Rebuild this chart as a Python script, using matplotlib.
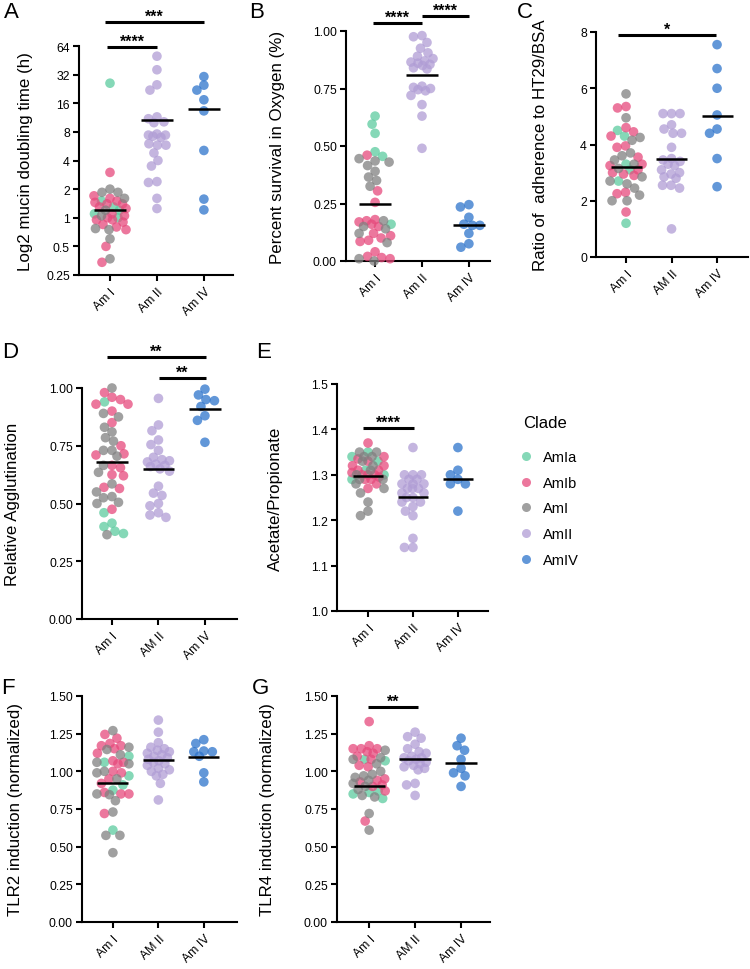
import numpy as np
import matplotlib
matplotlib.use("Agg")
import matplotlib.pyplot as plt
from matplotlib.lines import Line2D
from matplotlib.transforms import blended_transform_factory

plt.rcParams['font.family'] = ['Liberation Sans', 'DejaVu Sans']

# ---------------- data ----------------
clades = ["AmIa", "AmIb", "AmI", "AmII", "AmIV"]
clade_colors = ["#5ccb9f", "#e64a7c", "#808080", "#b09dd5", "#2e74cc"]

# Panel A: mucin doubling time (h)
A_AmIa = [26.0, 1.5, 1.3, 1.2, 1.1, 1.0]
A_AmIb = [3.0, 1.7, 1.6, 1.5, 1.45, 1.4, 1.4, 1.3, 1.25, 1.1, 1.05, 1.0, 0.95, 0.95, 0.9, 0.85, 0.8, 0.75, 0.5, 0.34]
A_AmI = [2.0, 1.85, 1.85, 1.6, 1.2, 1.05, 0.77, 0.75, 0.6, 0.37]
A_AmII = [50, 36, 25, 22, 11.5, 11, 10.2, 10, 7.6, 7.4, 7.4, 7.2, 7.0, 6.0, 5.8, 5.8, 4.8, 4.0, 3.5, 2.4, 2.35, 1.6, 1.25]
A_AmIV = [30.5, 24.8, 22, 17.4, 13.3, 5.1, 1.57, 1.21]
A_center = [1.2, 10.7, 14.0]

# Panel B: percent survival in oxygen
B_AmIa = [0.63, 0.595, 0.555, 0.475, 0.455, 0.16]
B_AmIb = [0.46, 0.305, 0.255, 0.18, 0.175, 0.17, 0.16, 0.15, 0.12, 0.11, 0.10, 0.09, 0.085, 0.04, 0.02, 0.015, 0.01]
B_AmI = [0.445, 0.435, 0.43, 0.415, 0.39, 0.365, 0.35, 0.325, 0.175, 0.15, 0.14, 0.12, 0.08, 0.01, 0.0]
B_AmII = [0.98, 0.975, 0.95, 0.925, 0.905, 0.89, 0.88, 0.87, 0.865, 0.86, 0.855, 0.85, 0.84, 0.835, 0.76, 0.755, 0.75, 0.745, 0.74, 0.72, 0.68, 0.63, 0.49]
B_AmIV = [0.245, 0.235, 0.19, 0.16, 0.155, 0.155, 0.12, 0.075, 0.06]
B_center = [0.247, 0.81, 0.155]

# Panel C: adherence ratio HT29/BSA
C_AmIa = [4.5, 4.3, 3.3, 3.1, 2.7, 1.2]
C_AmIb = [5.35, 5.3, 4.6, 4.45, 4.3, 3.95, 3.9, 3.55, 3.3, 3.25, 3.1, 3.0, 2.95, 2.9, 2.3, 2.25, 1.6]
C_AmI = [5.8, 4.95, 4.25, 4.15, 3.7, 3.6, 3.45, 3.3, 3.15, 2.85, 2.7, 2.6, 2.45, 2.2, 2.0, 2.0]
C_AmII = [5.1, 5.1, 5.1, 4.7, 4.55, 4.4, 4.4, 3.9, 3.5, 3.45, 3.4, 3.3, 3.25, 3.1, 3.0, 2.95, 2.85, 2.8, 2.55, 2.55, 2.45, 1.0]
C_AmIV = [7.55, 6.7, 6.0, 5.05, 4.55, 4.4, 3.5, 2.5]
C_center = [3.2, 3.47, 5.02]

# Panel D: relative agglutination
D_AmIa = [0.94, 0.46, 0.415, 0.40, 0.38, 0.37]
D_AmIb = [0.98, 0.96, 0.95, 0.93, 0.93, 0.90, 0.85, 0.75, 0.715, 0.71, 0.665, 0.655, 0.625, 0.62, 0.57, 0.565, 0.475]
D_AmI = [1.0, 0.89, 0.875, 0.83, 0.81, 0.785, 0.77, 0.73, 0.73, 0.705, 0.665, 0.635, 0.585, 0.55, 0.53, 0.525, 0.505, 0.50, 0.365]
D_AmII = [0.955, 0.84, 0.815, 0.775, 0.755, 0.73, 0.70, 0.69, 0.685, 0.68, 0.67, 0.665, 0.66, 0.65, 0.64, 0.575, 0.545, 0.535, 0.50, 0.49, 0.46, 0.45, 0.44]
D_AmIV = [0.995, 0.97, 0.95, 0.945, 0.92, 0.88, 0.86, 0.765]
D_center = [0.68, 0.65, 0.91]

# Panel E: acetate/propionate
E_AmIa = [1.35, 1.34, 1.33, 1.31, 1.30, 1.29]
E_AmIb = [1.37, 1.34, 1.335, 1.33, 1.32, 1.32, 1.31, 1.31, 1.305, 1.30, 1.30, 1.30, 1.295, 1.29, 1.29, 1.28, 1.27]
E_AmI = [1.35, 1.35, 1.34, 1.34, 1.33, 1.32, 1.31, 1.30, 1.29, 1.29, 1.28, 1.27, 1.26, 1.24, 1.22, 1.21]
E_AmII = [1.36, 1.30, 1.30, 1.30, 1.29, 1.29, 1.28, 1.28, 1.28, 1.27, 1.27, 1.27, 1.26, 1.26, 1.25, 1.25, 1.24, 1.24, 1.23, 1.22, 1.21, 1.16, 1.14, 1.14]
E_AmIV = [1.36, 1.31, 1.30, 1.29, 1.28, 1.28, 1.22]
E_center = [1.298, 1.251, 1.291]

# Panel F: TLR2 induction
F_AmIa = [1.10, 1.06, 0.97, 0.91, 0.875, 0.61]
F_AmIb = [1.245, 1.22, 1.185, 1.17, 1.17, 1.15, 1.12, 1.07, 1.06, 1.05, 1.0, 0.99, 0.95, 0.92, 0.86, 0.85, 0.85, 0.72]
F_AmI = [1.27, 1.16, 1.145, 1.11, 1.06, 1.05, 1.0, 0.99, 0.95, 0.85, 0.845, 0.805, 0.73, 0.575, 0.575, 0.46]
F_AmII = [1.34, 1.26, 1.19, 1.16, 1.15, 1.14, 1.13, 1.12, 1.11, 1.10, 1.09, 1.08, 1.07, 1.06, 1.05, 1.04, 1.02, 1.01, 1.0, 0.98, 0.97, 0.92, 0.81]
F_AmIV = [1.21, 1.185, 1.135, 1.13, 1.13, 1.10, 0.99, 0.93]
F_center = [0.92, 1.073, 1.095]

# Panel G: TLR4 induction
G_AmIa = [1.08, 1.07, 0.87, 0.86, 0.85, 0.82]
G_AmIb = [1.33, 1.17, 1.15, 1.15, 1.15, 1.13, 1.12, 1.10, 1.08, 1.04, 1.03, 0.95, 0.94, 0.93, 0.91, 0.90, 0.87, 0.67]
G_AmI = [1.14, 1.09, 1.08, 1.05, 1.00, 0.98, 0.97, 0.96, 0.94, 0.92, 0.90, 0.88, 0.84, 0.83, 0.72, 0.61]
G_AmII = [1.26, 1.23, 1.22, 1.18, 1.15, 1.13, 1.12, 1.10, 1.09, 1.09, 1.08, 1.07, 1.06, 1.05, 1.04, 1.03, 1.02, 1.01, 0.92, 0.91, 0.84]
G_AmIV = [1.22, 1.17, 1.14, 1.08, 1.02, 0.99, 0.97, 0.90]
G_center = [0.905, 1.085, 1.055]

# tick labels
labels_std = ["Am I", "Am II", "Am IV"]
labels_alt = ["Am I", "AM II", "Am IV"]

# ---------------- figure ----------------
W, H = 750, 970
fig = plt.figure(figsize=(W / 100, H / 100), dpi=100)


def add_ax(left, right, top, bottom):
    return fig.add_axes([left / W, 1 - bottom / H, (right - left) / W, (bottom - top) / H])


def style(ax, ylim, yticks, yticklabels, xlim, xlabels, ylabel, label_x_px, left_px, right_px, log=False):
    if log:
        ax.set_yscale('log', base=2)
    ax.set_ylim(*ylim)
    ax.set_xlim(*xlim)
    ax.set_yticks(yticks)
    ax.set_yticklabels(yticklabels)
    ax.minorticks_off()
    ax.set_xticks([0, 1, 2])
    ax.set_xticklabels(xlabels, rotation=45, ha='right', rotation_mode='anchor', fontsize=8.5)
    for s in ['top', 'right']:
        ax.spines[s].set_visible(False)
    for s in ['left', 'bottom']:
        ax.spines[s].set_linewidth(1.5)
    ax.tick_params(width=1.5, length=4.5, labelsize=8.8, direction='out', pad=2)
    ax.tick_params(axis='x', pad=3)
    ax.set_ylabel(ylabel, fontsize=12.2)
    ax.yaxis.set_label_coords((label_x_px - left_px) / (right_px - left_px), 0.5)


def swarm_offsets(ax, xc, vals, d, maxw):
    vals = np.asarray(vals, dtype=float)
    pts = ax.transData.transform(np.column_stack([np.full(len(vals), xc), vals]))
    ys = pts[:, 1]
    x0 = pts[0, 0]
    order = np.argsort(-ys, kind='stable')
    placed = []
    xs = np.zeros(len(vals))
    grid = np.linspace(-maxw, maxw, 4 * int(maxw) + 1)
    grid = grid[np.argsort(np.abs(grid) + 1e-3 * grid)]
    for i in order:
        y = ys[i]
        if placed:
            P = np.array(placed)
            dist = np.sqrt((grid[:, None] - P[None, :, 0]) ** 2 + (y - P[None, :, 1]) ** 2).min(axis=1)
        else:
            dist = np.full(len(grid), np.inf)
        ok = np.where(dist >= d)[0]
        if len(ok):
            c = grid[ok[0]]
        else:
            c = grid[np.argmax(dist)]
        placed.append((c, y))
        xs[i] = x0 + c
    back = ax.transData.inverted().transform(np.column_stack([xs, ys]))
    return back[:, 0], back[:, 1]


MS = 48
ALPHA = 0.75


def draw_group(ax, xc, series, colors, center, maxw, d=8.5, halfwidth=0.34):
    vals = []
    cols = []
    for s, c in zip(series, colors):
        vals += list(s)
        cols += [c] * len(s)
    x, y = swarm_offsets(ax, xc, vals, d, maxw)
    ax.scatter(x, y, s=MS, c=cols, alpha=ALPHA, linewidths=0, zorder=3, clip_on=False)
    ax.plot([xc - halfwidth, xc + halfwidth], [center, center], color='black', lw=1.8, zorder=4,
            solid_capstyle='butt')


def groups(ax, a_series, ii, iv, centers):
    draw_group(ax, 0, a_series, clade_colors[:3], centers[0], maxw=16)
    draw_group(ax, 1, [ii], [clade_colors[3]], centers[1], maxw=11)
    draw_group(ax, 2, [iv], [clade_colors[4]], centers[2], maxw=11)


def sig(ax, x1, x2, ypx, text):
    tr = blended_transform_factory(ax.transData, fig.transFigure)
    ax.plot([x1, x2], [1 - ypx / H, 1 - ypx / H], color='black', lw=2.2, transform=tr, clip_on=False,
            solid_capstyle='butt')
    ax.text((x1 + x2) / 2, 1 - (ypx - 1.5) / H, text, transform=tr, ha='center', va='baseline',
            fontsize=11.5, fontweight='bold')


def letter(xpx, ypx, t):
    fig.text(xpx / W, 1 - ypx / H, t, fontsize=16, ha='left', va='center')


# ---- A ----
axA = add_ax(79, 233, 47, 276)
style(axA, (0.25, 64), [0.25, 0.5, 1, 2, 4, 8, 16, 32, 64], ["0.25", "0.5", "1", "2", "4", "8", "16", "32", "64"],
      (-0.66, 2.62), labels_std, "Log2 mucin doubling time (h)", 33, 79, 233, log=True)
groups(axA, [A_AmIa, A_AmIb, A_AmI], A_AmII, A_AmIV, A_center)
sig(axA, -0.06, 1.0, 48, "****")
sig(axA, -0.1, 2.0, 23, "***")
letter(4, 13, "A")

# ---- B ----
axB = add_ax(346, 490, 32, 262)
style(axB, (0, 1), [0, 0.25, 0.5, 0.75, 1.0], ["0.00", "0.25", "0.50", "0.75", "1.00"],
      (-0.62, 2.45), labels_std, "Percent survival in Oxygen (%)", 285, 346, 490)
groups(axB, [B_AmIa, B_AmIb, B_AmI], B_AmII, B_AmIV, B_center)
sig(axB, -0.04, 1.0, 24, "****")
sig(axB, 1.0, 2.0, 17, "****")
letter(249, 13, "B")

# ---- C ----
axC = add_ax(596, 748, 33, 258)
style(axC, (0, 8), [0, 2, 4, 6, 8], ["0", "2", "4", "6", "8"],
      (-0.66, 2.68), labels_alt, "Ratio of  adherence to HT29/BSA", 548, 596, 748)
groups(axC, [C_AmIa, C_AmIb, C_AmI], C_AmII, C_AmIV, C_center)
sig(axC, -0.18, 1.98, 36, "*")
letter(517, 13, "C")

# ---- D ----
axD = add_ax(82, 237, 389, 620)
style(axD, (0, 1), [0, 0.25, 0.5, 0.75, 1.0], ["0.00", "0.25", "0.50", "0.75", "1.00"],
      (-0.645, 2.69), labels_alt, "Relative Agglutination", 20, 82, 237)
groups(axD, [D_AmIa, D_AmIb, D_AmI], D_AmII, D_AmIV, D_center)
sig(axD, -0.1, 2.02, 358, "**")
sig(axD, 1.02, 2.02, 379, "**")
letter(2, 353, "D")

# ---- E ----
axE = add_ax(337, 488, 385, 612)
style(axE, (1.0, 1.5), [1.0, 1.1, 1.2, 1.3, 1.4, 1.5], ["1.0", "1.1", "1.2", "1.3", "1.4", "1.5"],
      (-0.69, 2.67), labels_std, "Acetate/Propionate", 283, 337, 488)
groups(axE, [E_AmIa, E_AmIb, E_AmI], E_AmII, E_AmIV, E_center)
sig(axE, -0.11, 1.02, 429, "****")
letter(256, 353, "E")

# ---- F ----
axF = add_ax(82, 237, 697, 923)
style(axF, (0, 1.5), [0, 0.25, 0.5, 0.75, 1.0, 1.25, 1.5], ["0.00", "0.25", "0.50", "0.75", "1.00", "1.25", "1.50"],
      (-0.68, 2.73), labels_alt, "TLR2 induction (normalized)", 23, 82, 237)
groups(axF, [F_AmIa, F_AmIb, F_AmI], F_AmII, F_AmIV, F_center)
letter(1, 688, "F")

# ---- G ----
axG = add_ax(337, 490, 697, 923)
style(axG, (0, 1.5), [0, 0.25, 0.5, 0.75, 1.0, 1.25, 1.5], ["0.00", "0.25", "0.50", "0.75", "1.00", "1.25", "1.50"],
      (-0.70, 2.63), labels_alt, "TLR4 induction (normalized)", 275, 337, 490)
groups(axG, [G_AmIa, G_AmIb, G_AmI], G_AmII, G_AmIV, G_center)
sig(axG, -0.03, 1.07, 708, "**")
letter(252, 688, "G")

# ---- legend ----
fig.text(523 / W, 1 - 423 / H, "Clade", fontsize=12, ha='left', va='center')
handles = [Line2D([], [], marker='o', linestyle='', markersize=6.5, markerfacecolor=c, markeredgewidth=0,
                  alpha=ALPHA) for c in clade_colors]
leg = fig.legend(handles, clades, loc='upper left', bbox_to_anchor=(517 / W, 1 - 451 / H),
                 frameon=False, fontsize=10.5, labelspacing=0.8, handletextpad=0.6,
                 handlelength=1.2, borderaxespad=0, borderpad=0)

fig.savefig("out.png", dpi=100)
